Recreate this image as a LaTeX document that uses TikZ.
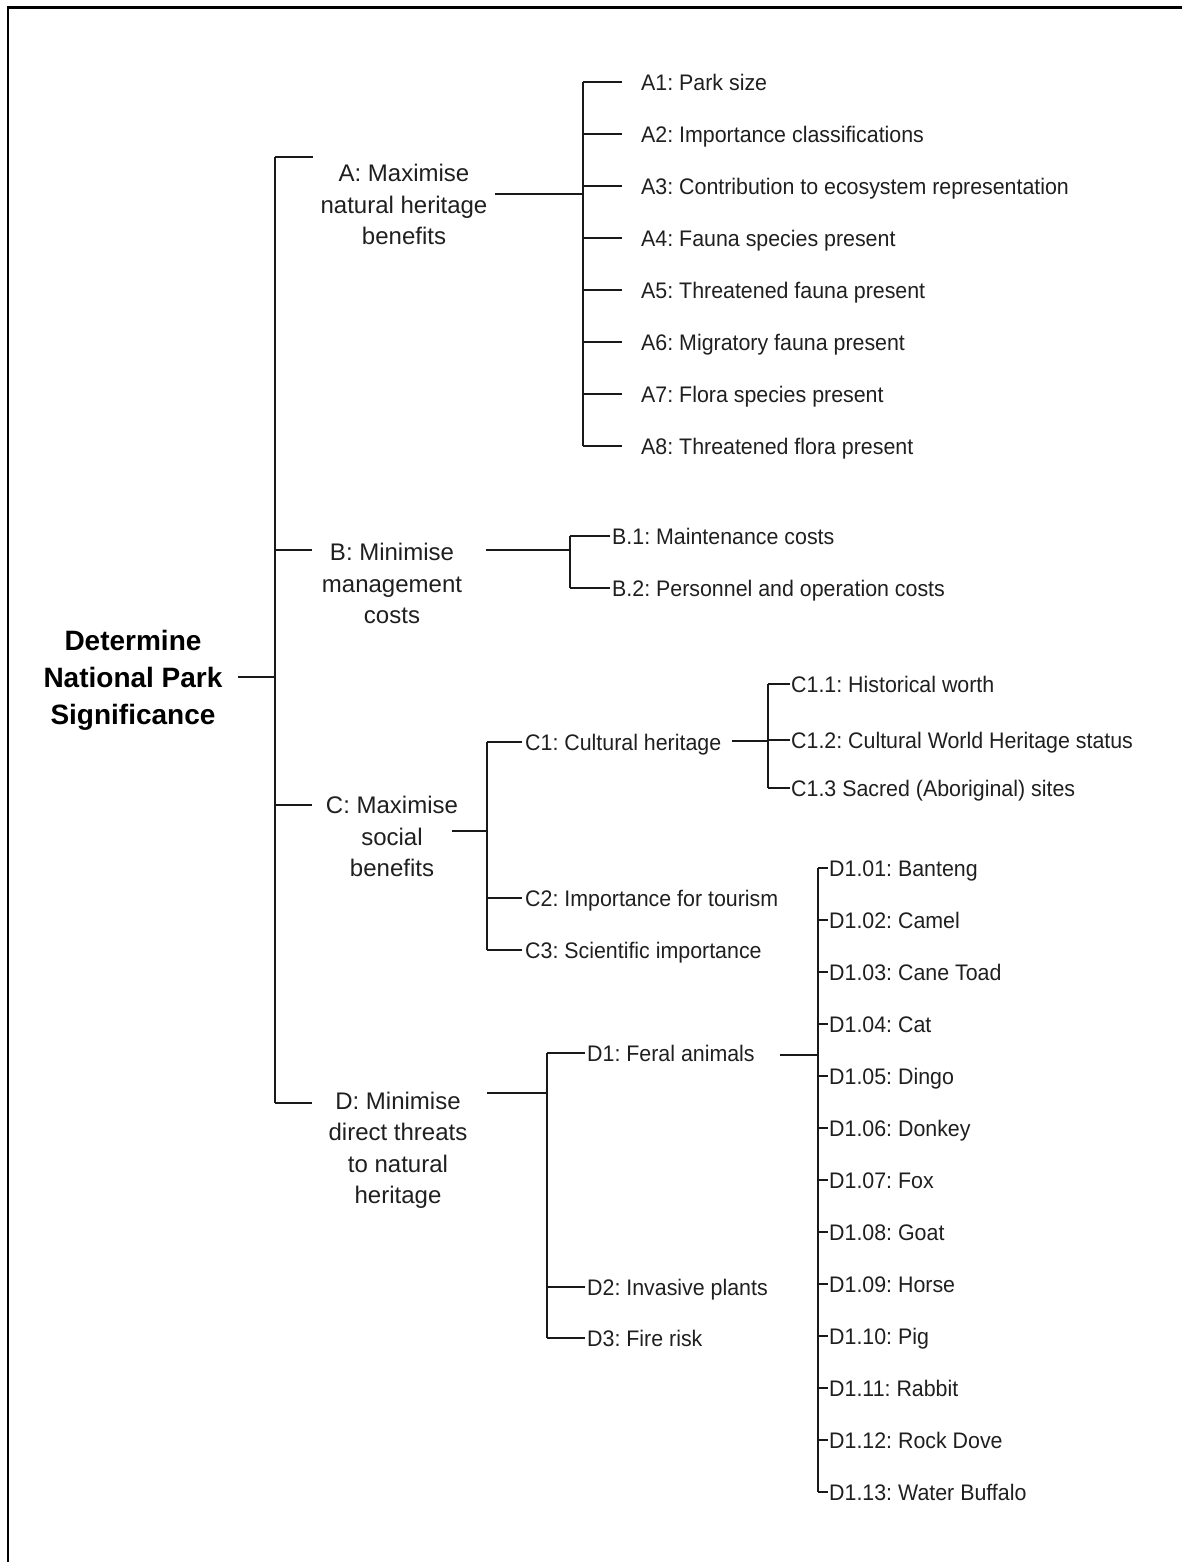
\documentclass[tikz,border=0pt]{standalone}
\usepackage{fontspec}
\setmainfont{Liberation Sans}
\newfontfamily\leaffam[FakeStretch=0.95]{Liberation Sans}
\usetikzlibrary{calc}

\newcommand\leaffont{\leaffam\fontsize{22.5}{26}\selectfont\frenchspacing}
\newcommand\midfont{\fontsize{24}{31.5}\selectfont\frenchspacing}
\newcommand\rootfont{\fontsize{28}{37}\selectfont\bfseries}

\tikzset{
  leaf/.style={anchor=west, inner sep=0pt, font=\leaffont, text=black!88,
               text height=16.1pt, text depth=0pt},
  goal/.style={anchor=north, inner sep=0pt, align=center, font=\midfont, text=black!88},
  top/.style={anchor=north, inner sep=0pt, align=center, font=\rootfont, text=black},
  link/.style={draw=black!90, line width=1.5pt},
  frame/.style={draw=black, line cap=rect}
}

\begin{document}
\begin{tikzpicture}[x=1pt, y=-1pt]
\useasboundingbox (0,0) rectangle (1181,1562);

% page frame (top and left edges)
\draw[frame, line width=3pt] (8,8) -- (1181,8);
\draw[frame, line width=2.2pt] (8,8) -- (8,1562);

% root
\node[top] (root) at (133,630) {Determine\\National Park\\Significance};

% first level goals
\node[goal] (A) at (404,164.4) {A: Maximise\\natural heritage\\benefits};
\node[goal] (B) at (392,543.4) {B: Minimise\\management\\costs};
\node[goal] (C) at (392,796.4) {C: Maximise\\social\\benefits};
\node[goal] (D) at (398,1091.4) {D: Minimise\\direct threats\\to natural\\heritage};

% trunk
\coordinate (rootOut) at (238,677);
\coordinate (trunkTop) at (275,157);
\coordinate (trunkBot) at (275,1103);
\coordinate (Ain) at (313,157);
\coordinate (Bin) at (312,550);
\coordinate (Cin) at (312,805);
\coordinate (Din) at (312,1103);
\draw[link] (rootOut) -- (rootOut -| trunkTop);
\draw[link] (trunkTop) -- (trunkBot);
\draw[link] (trunkTop) -- (Ain);
\draw[link] (trunkTop |- Bin) -- (Bin);
\draw[link] (trunkTop |- Cin) -- (Cin);
\draw[link] (trunkBot) -- (Din);

% A criteria
\coordinate (Aout) at (495,194);
\coordinate (Abus) at (583,82);
\coordinate (AbusEnd) at (583,446);
\draw[link] (Aout) -- (Aout -| Abus);
\draw[link] (Abus) -- (AbusEnd);
\foreach \i/\t [count=\k from 0] in {1/Park size, 2/Importance classifications,
    3/Contribution to ecosystem representation, 4/Fauna species present,
    5/Threatened fauna present, 6/Migratory fauna present,
    7/Flora species present, 8/Threatened flora present} {
  \node[leaf] (A\i) at (641,82+52*\k) {A\i: \t};
  \draw[link] (Abus |- A\i.west) -- ([xshift=-19pt]A\i.west);
}

% B criteria
\coordinate (Bout) at (486,550);
\coordinate (Bbus) at (570,536);
\coordinate (BbusEnd) at (570,588);
\draw[link] (Bout) -- (Bout -| Bbus);
\draw[link] (Bbus) -- (BbusEnd);
\node[leaf] (B1) at (612,536) {B.1: Maintenance costs};
\node[leaf] (B2) at (612,588) {B.2: Personnel and operation costs};
\draw[link] (Bbus |- B1.west) -- ([xshift=-2pt]B1.west);
\draw[link] (Bbus |- B2.west) -- ([xshift=-2pt]B2.west);

% C criteria
\coordinate (Cout) at (452,831);
\coordinate (Cbus) at (487,742);
\coordinate (CbusEnd) at (487,950);
\draw[link] (Cout) -- (Cout -| Cbus);
\draw[link] (Cbus) -- (CbusEnd);
\node[leaf] (C1) at (525,742) {C1: Cultural heritage};
\node[leaf] (C2) at (525,898) {C2: Importance for tourism};
\node[leaf] (C3) at (525,950) {C3: Scientific importance};
\foreach \n in {C1,C2,C3}
  \draw[link] (Cbus |- \n.west) -- ([xshift=-3pt]\n.west);

% C1 sub-criteria
\coordinate (C1out) at (732,741);
\coordinate (C1bus) at (768,684);
\coordinate (C1busEnd) at (768,788);
\draw[link] (C1out) -- (C1out -| C1bus);
\draw[link] (C1bus) -- (C1busEnd);
\node[leaf] (C11) at (791,684) {C1.1: Historical worth};
\node[leaf] (C12) at (791,740) {C1.2: Cultural World Heritage status};
\node[leaf] (C13) at (791,788) {C1.3 Sacred (Aboriginal) sites};
\foreach \n in {C11,C12,C13}
  \draw[link] (C1bus |- \n.west) -- ([xshift=-1pt]\n.west);

% D criteria
\coordinate (Dout) at (487,1093);
\coordinate (Dbus) at (547,1053);
\coordinate (DbusEnd) at (547,1338);
\draw[link] (Dout) -- (Dout -| Dbus);
\draw[link] (Dbus) -- (DbusEnd);
\node[leaf] (D1) at (587,1053) {D1: Feral animals};
\node[leaf] (D2) at (587,1287) {D2: Invasive plants};
\node[leaf] (D3) at (587,1338) {D3: Fire risk};
\foreach \n in {D1,D2,D3}
  \draw[link] (Dbus |- \n.west) -- ([xshift=-2pt]\n.west);

% D1 feral species
\coordinate (D1out) at (780,1055);
\coordinate (D1bus) at (818,868);
\coordinate (D1busEnd) at (818,1492);
\draw[link] (D1out) -- (D1out -| D1bus);
\draw[link] (D1bus) -- (D1busEnd);
\foreach \i/\t [count=\k from 0] in {01/Banteng, 02/Camel, 03/Cane Toad, 04/Cat,
    05/Dingo, 06/Donkey, 07/Fox, 08/Goat, 09/Horse, 10/Pig, 11/Rabbit,
    12/Rock Dove, 13/Water Buffalo} {
  \node[leaf] (D1\i) at (829,868+52*\k) {D1.\i: \t};
  \draw[link] (D1bus |- D1\i.west) -- ([xshift=-1pt]D1\i.west);
}
\end{tikzpicture}
\end{document}
